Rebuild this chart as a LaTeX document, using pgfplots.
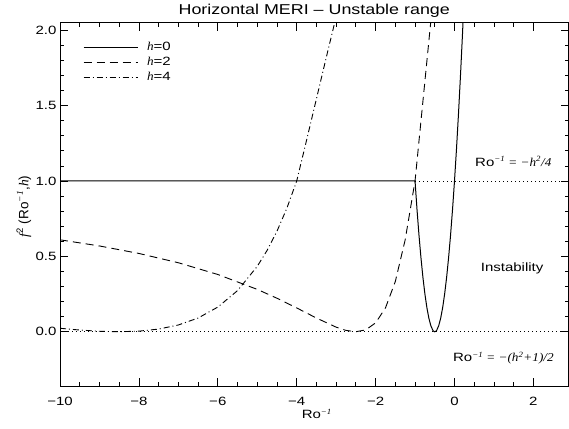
\documentclass[border=0pt]{standalone}
\usepackage{pgfplots}
\pgfplotsset{compat=1.18}
\usepackage{fontspec}
\setmainfont{Liberation Sans}[FakeStretch=1.25]
\newfontfamily\tmfont{Liberation Serif}[FakeStretch=1.1]
\newfontfamily\plainsans{Liberation Sans}
\newfontfamily\plainserif{Liberation Serif}
\newcommand{\roinv}{Ro\textsuperscript{\tmfont\itshape −1}}
\newcommand{\fs}{\fontsize{12}{14}\selectfont}
\begin{document}
\begin{tikzpicture}
\begin{axis}[name=ax, scale only axis, width=508.5pt, height=363.3pt,
  xmin=-10, xmax=2.89, ymin=-0.36, ymax=2.05,
  xtick={-10,-8,-6,-4,-2,0,2}, xticklabels={−10,−8,−6,−4,−2,0,2},
  ytick={0,0.5,1,1.5,2}, yticklabels={0.0,0.5,1.0,1.5,2.0},
  minor x tick num=3, minor y tick num=4,
  major tick length=8pt, minor tick length=4pt,
  tick style={black, line width=0.8pt},
  axis line style={line width=1pt},
  tick label style={font=\fs},
  xticklabel style={anchor=base, yshift=-19pt, inner sep=0pt},
  yticklabel style={anchor=east, inner sep=0pt, xshift=-3.3pt},
  every axis title shift=0pt,
  title={Horizontal MERI – Unstable range},
  title style={at={(axis description cs:0.5,1.0212)}, anchor=base, inner sep=0pt, font=\fontsize{14.3}{16}\selectfont},
  xlabel={\roinv},
  xlabel style={at={(axis description cs:0.505,-0.0908)}, anchor=base, inner sep=0pt, font=\fs},
  ylabel={{\plainserif\itshape f}\textsuperscript{2} (Ro\textsuperscript{\plainserif\itshape −1},{\plainserif\itshape h})},
  ylabel style={at={(axis description cs:-0.0623,0.494)}, anchor=base, inner sep=0pt, font=\plainsans\fontsize{13.5}{15}\selectfont},
  legend style={draw=none, fill=none, at={(axis cs:-9.42,1.933)}, anchor=north west, inner sep=0pt, row sep=2pt, font=\fs, nodes={inner sep=1pt, text height=8.6pt, text depth=2.5pt}},
  legend cell align=left,
  legend image code/.code={\draw[#1] (0pt,0pt) -- (54pt,0pt); \path (62pt,0pt);},
]
% reference lines
\addplot[forget plot, black, line width=0.9pt, dash pattern=on 1.2pt off 2.8pt] coordinates {(-1,1) (2.89,1)};
\addplot[forget plot, black, line width=0.9pt, dash pattern=on 1.2pt off 2.8pt] coordinates {(-10,0) (2.89,0)};
% h=0
\addplot[black, line width=1pt] coordinates {
(-10,1) (-1,1) (-0.95,0.81) (-0.9,0.64) (-0.85,0.49) (-0.8,0.36) (-0.75,0.25) (-0.7,0.16) (-0.65,0.09) (-0.6,0.04) (-0.55,0.01) (-0.525,0.0025) (-0.5,0) (-0.475,0.0025) (-0.45,0.01) (-0.4,0.04) (-0.35,0.09) (-0.3,0.16) (-0.25,0.25) (-0.2,0.36) (-0.15,0.49) (-0.1,0.64) (-0.05,0.81) (0,1) (0.05,1.21) (0.1,1.44) (0.15,1.69) (0.2,1.96) (0.25,2.25)};
\addlegendentry{{\tmfont\itshape h}=0}
% h=2
\addplot[black, line width=0.9pt, dash pattern=on 8pt off 5pt] coordinates {
(-10,0.6098) (-9,0.5690) (-8,0.5193) (-7,0.4576) (-6,0.3798) (-5,0.2809) (-4.5,0.2222) (-4,0.1579) (-3.5,0.0909) (-3,0.0303) (-2.75,0.00885) (-2.5,0) (-2.25,0.01235) (-2,0.0588) (-1.75,0.1579) (-1.5,0.3333) (-1.25,0.6098) (-1,1.0) (-0.9,1.265) (-0.8,1.53) (-0.7,1.795) (-0.6,2.06)};
\addlegendentry{{\tmfont\itshape h}=2}
% h=4
\addplot[black, line width=0.9pt, dash pattern=on 6pt off 3pt on 1pt off 3pt] coordinates {
(-10,0.0229) (-9.5,0.01124) (-9,0.00312) (-8.5,0) (-8,0.00389) (-7.5,0.01754) (-7,0.04478) (-6.5,0.0909) (-6,0.1634) (-5.5,0.2727) (-5,0.4336) (-4.75,0.5396) (-4.5,0.6667) (-4.25,0.8187) (-4,1.0) (-3.75,1.27) (-3.5,1.545) (-3.25,1.82) (-3.0,2.09)};
\addlegendentry{{\tmfont\itshape h}=4}
\node[font=\fs, inner sep=0pt] at (axis cs:1.49,1.13) {\roinv{\tmfont\itshape\ = −h\textsuperscript{2}/4}};
\node[font=\fs, inner sep=0pt] at (axis cs:1.46,0.42) {Instability};
\node[font=\fs, inner sep=0pt] at (axis cs:1.24,-0.177) {\roinv{\tmfont\itshape\ = −(h\textsuperscript{2}+1)/2}};
\end{axis}
\pgfresetboundingbox
\path[use as bounding box] ([xshift=-60pt,yshift=-42pt]ax.south west) rectangle ([xshift=0.5pt,yshift=22.7pt]ax.north east);
\end{tikzpicture}
\end{document}
